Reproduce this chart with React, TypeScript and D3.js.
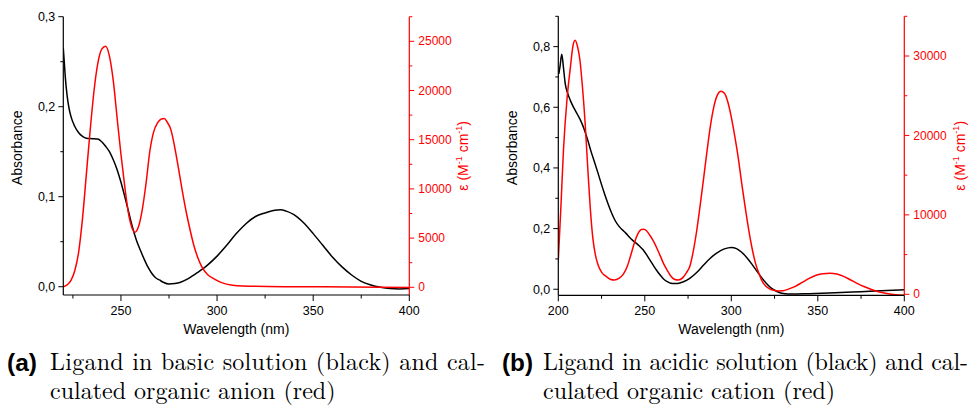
import React from "react";
import * as d3 from "d3";

// ---------- Panel (a) data ----------
const aBlackWl = [220, 220.5, 221, 222, 223, 224, 226, 228, 230, 232, 235, 238, 240, 242, 244, 246, 248, 250, 252, 254, 256, 258, 260, 262, 264, 266, 268, 270, 272, 275, 278, 281, 285, 290, 295, 300, 305, 310, 315, 320, 325, 330, 333, 336, 340, 345, 350, 355, 360, 365, 370, 375, 380, 385, 390, 395, 400];
const aAbsorbance = [0.265, 0.25, 0.234, 0.212, 0.198, 0.189, 0.178, 0.171, 0.167, 0.165, 0.1645, 0.164, 0.161, 0.156, 0.15, 0.141, 0.13, 0.116, 0.1, 0.083, 0.066, 0.052, 0.041, 0.031, 0.022, 0.015, 0.01, 0.0075, 0.005, 0.003, 0.0035, 0.005, 0.009, 0.016, 0.024, 0.034, 0.046, 0.059, 0.07, 0.078, 0.082, 0.085, 0.0855, 0.084, 0.08, 0.071, 0.059, 0.046, 0.033, 0.022, 0.013, 0.006, 0.002, -0.0005, -0.002, -0.0025, -0.002];
const aRedWl = [220, 222, 224, 226, 228, 230, 232, 234, 236, 238, 240, 242, 244, 246, 248, 250, 252, 254, 256, 257.3, 259, 261, 263, 265, 267, 269, 271, 272.5, 274, 276, 278, 280, 282, 284, 286, 288, 290, 292, 295, 298, 302, 308, 320, 340, 370, 400];
const aEpsilon = [60, 250, 700, 1700, 3600, 7000, 11500, 16000, 20000, 22800, 24200, 24500, 23500, 21000, 17200, 13500, 10200, 7400, 5900, 5600, 6100, 7800, 10500, 13800, 15800, 16700, 17100, 17150, 16800, 16000, 14200, 12000, 9700, 7600, 5800, 4200, 3000, 2100, 1300, 900, 500, 220, 100, 60, 30, -30];
const aXTicks = [250, 300, 350, 400];
const aXMinor = [225, 275, 325, 375];
const aYTicks = [0, 0.1, 0.2, 0.3];
const aYTickLabels = ["0,0", "0,1", "0,2", "0,3"];
const aYMinor = [0.05, 0.15, 0.25];
const aRTicks = [0, 5000, 10000, 15000, 20000, 25000];
const aRMinor = [2500, 7500, 12500, 17500, 22500, 27500];

// ---------- Panel (b) data ----------
const bBlackWl = [200.3, 201, 202, 203, 204, 205.5, 207, 209, 211, 213, 215, 217, 219, 221, 223, 225, 227, 229, 231, 233, 235, 237, 239, 241, 243, 245, 247, 249, 251, 253, 255, 257, 259, 261, 263, 265, 267, 269, 272, 276, 280, 284, 288, 292, 296, 300, 303, 306, 309, 312, 315, 318, 321, 324, 327, 330, 335, 345, 360, 375, 390, 400];
const bAbsorbance = [0.71, 0.735, 0.775, 0.73, 0.678, 0.645, 0.622, 0.598, 0.577, 0.555, 0.527, 0.492, 0.453, 0.418, 0.382, 0.345, 0.31, 0.278, 0.249, 0.225, 0.208, 0.196, 0.185, 0.172, 0.161, 0.152, 0.142, 0.13, 0.114, 0.096, 0.078, 0.061, 0.046, 0.033, 0.025, 0.02, 0.0185, 0.019, 0.024, 0.036, 0.055, 0.08, 0.103, 0.121, 0.133, 0.138, 0.134, 0.122, 0.104, 0.082, 0.058, 0.035, 0.015, 0.0, -0.009, -0.014, -0.016, -0.0145, -0.012, -0.008, -0.004, -0.002];
const bRedWl = [200, 201.5, 203, 205, 207, 208.5, 209.7, 211, 212.5, 214, 215.5, 217, 218.5, 220, 221.5, 223, 225, 228, 230, 232.5, 235, 237.5, 240, 242, 244, 246, 248, 249.5, 251, 253, 255, 257, 259, 261, 263, 265, 267, 269.5, 272, 274, 276, 278, 280, 282, 284, 286, 288, 290, 292, 294, 296, 298, 300, 302, 304, 306, 308, 310, 312, 314, 316, 318, 320, 323, 327, 330, 333, 337, 341, 345, 349, 353, 357, 361, 365, 369, 373, 377, 381, 385, 390, 395, 400];
const bEpsilon = [4300, 11000, 18200, 24500, 28600, 31300, 32000, 31300, 29500, 26000, 21600, 16000, 10800, 7000, 4900, 3700, 2800, 2200, 1900, 1800, 2000, 2500, 3600, 5000, 6500, 7600, 8150, 8200, 8000, 7400, 6700, 5800, 4800, 3800, 3000, 2300, 1900, 1800, 2100, 2700, 3500, 5400, 8000, 11200, 14600, 18100, 21300, 23700, 25100, 25550, 25300, 24200, 22300, 19900, 17200, 14000, 11000, 8200, 5800, 3900, 2600, 1600, 1000, 600, 430, 450, 650, 1000, 1500, 2000, 2400, 2600, 2650, 2550, 2250, 1800, 1350, 950, 600, 320, 100, -50, -120];
const bXTicks = [200, 250, 300, 350, 400];
const bXMinor = [225, 275, 325, 375];
const bYTicks = [0, 0.2, 0.4, 0.6, 0.8];
const bYTickLabels = ["0,0", "0,2", "0,4", "0,6", "0,8"];
const bYMinor = [0.1, 0.3, 0.5, 0.7, 0.9];
const bRTicks = [0, 10000, 20000, 30000];
const bRMinor = [5000, 15000, 25000, 35000];

const SANS = "Liberation Sans";
const SERIF = "Latin Modern Roman";
const RED = "#ff0000";

type PanelProps = {
  x0: number; x1: number; yTop: number; yBot: number;
  xDomain: [number, number]; yDomain: [number, number]; rDomain: [number, number];
  blackWl: number[]; blackV: number[]; redWl: number[]; redV: number[];
  xTicks: number[]; xMinor: number[];
  yTicks: number[]; yLabels: string[]; yMinor: number[];
  rTicks: number[]; rMinor: number[];
  yTitleX: number; rTitleX: number;
};

function Panel(p: PanelProps) {
  const x = d3.scaleLinear().domain(p.xDomain).range([p.x0, p.x1]);
  const y = d3.scaleLinear().domain(p.yDomain).range([p.yBot, p.yTop]);
  const r = d3.scaleLinear().domain(p.rDomain).range([p.yBot, p.yTop]);
  const lineB = d3.line<number>().x((_, i) => x(p.blackWl[i])).y((v) => y(v)).curve(d3.curveMonotoneX);
  const lineR = d3.line<number>().x((_, i) => x(p.redWl[i])).y((v) => r(v)).curve(d3.curveMonotoneX);
  const midY = (p.yTop + p.yBot) / 2;
  const cid = `clip${Math.round(p.x0)}`;
  return (
    <g>
      <defs>
        <clipPath id={cid}>
          <rect x={p.x0} y={p.yTop - 2} width={p.x1 - p.x0} height={p.yBot - p.yTop + 2} />
        </clipPath>
      </defs>
      <g clipPath={`url(#${cid})`}>
        <path d={lineB(p.blackV) || ""} fill="none" stroke="#000" strokeWidth={1.5} />
        <path d={lineR(p.redV) || ""} fill="none" stroke={RED} strokeWidth={1.5} />
      </g>
      {/* left axis */}
      <line x1={p.x0} x2={p.x0} y1={p.yTop} y2={p.yBot} stroke="#000" strokeWidth={1.2} />
      {p.yTicks.map((t, i) => (
        <g key={"yt" + i}>
          <line x1={p.x0 - 5} x2={p.x0} y1={y(t)} y2={y(t)} stroke="#000" strokeWidth={1} />
          <text x={p.x0 - 8} y={y(t)} dy="0.35em" textAnchor="end" fontSize={12.5} fontFamily={SANS} fill="#000">{p.yLabels[i]}</text>
        </g>
      ))}
      {p.yMinor.map((t, i) => (
        <line key={"ym" + i} x1={p.x0 - 3} x2={p.x0} y1={y(t)} y2={y(t)} stroke="#000" strokeWidth={1} />
      ))}
      <text transform={`translate(${p.yTitleX},${midY - 8}) rotate(-90)`} textAnchor="middle" dy="0.35em" fontSize={14} fontFamily={SANS} fill="#000">Absorbance</text>
      {/* right axis */}
      <line x1={p.x1} x2={p.x1} y1={p.yTop} y2={p.yBot} stroke={RED} strokeWidth={1.2} />
      {p.rTicks.map((t, i) => (
        <g key={"rt" + i}>
          <line x1={p.x1} x2={p.x1 + 5} y1={r(t)} y2={r(t)} stroke={RED} strokeWidth={1} />
          <text x={p.x1 + 9} y={r(t)} dy="0.35em" textAnchor="start" fontSize={12} fontFamily={SANS} fill={RED}>{String(t)}</text>
        </g>
      ))}
      {p.rMinor.map((t, i) => (
        <line key={"rm" + i} x1={p.x1} x2={p.x1 + 3} y1={r(t)} y2={r(t)} stroke={RED} strokeWidth={1} />
      ))}
      <text transform={`translate(${p.rTitleX},${midY}) rotate(-90)`} textAnchor="middle" dy="0.35em" fontSize={14} fontFamily={SANS} fill={RED}>
        ε (M<tspan fontSize={9} dy="-6">-1</tspan><tspan dy="6"> cm</tspan><tspan fontSize={9} dy="-6">-1</tspan><tspan dy="6">)</tspan>
      </text>
      {/* bottom axis */}
      <line x1={p.x0} x2={p.x1} y1={p.yBot} y2={p.yBot} stroke="#000" strokeWidth={1.2} />
      {p.xTicks.map((t, i) => (
        <g key={"xt" + i}>
          <line x1={x(t)} x2={x(t)} y1={p.yBot} y2={p.yBot + 6} stroke="#000" strokeWidth={1} />
          <text x={x(t)} y={p.yBot + 20} textAnchor="middle" fontSize={12.5} fontFamily={SANS} fill="#000">{String(t)}</text>
        </g>
      ))}
      {p.xMinor.map((t, i) => (
        <line key={"xm" + i} x1={x(t)} x2={x(t)} y1={p.yBot} y2={p.yBot + 3.5} stroke="#000" strokeWidth={1} />
      ))}
      <text x={(p.x0 + p.x1) / 2} y={334} textAnchor="middle" fontSize={14} fontFamily={SANS} fill="#000">Wavelength (nm)</text>
    </g>
  );
}

export default function App() {
  return (
    <svg width={970} height={405} style={{ position: "absolute", left: 0, top: 0, background: "#fff" }}>
      <rect width={970} height={405} fill="#fff" />
      <Panel x0={63.3} x1={409.3} yTop={16.7} yBot={295}
        xDomain={[220, 400]} yDomain={[-0.0092, 0.3]} rDomain={[-783, 27500]}
        blackWl={aBlackWl} blackV={aAbsorbance} redWl={aRedWl} redV={aEpsilon}
        xTicks={aXTicks} xMinor={aXMinor} yTicks={aYTicks} yLabels={aYTickLabels} yMinor={aYMinor}
        rTicks={aRTicks} rMinor={aRMinor} yTitleX={17.5} rTitleX={463} />
      <Panel x0={558.3} x1={904.3} yTop={16.3} yBot={295.3}
        xDomain={[200, 400]} yDomain={[-0.02, 0.9]} rDomain={[-126, 35000]}
        blackWl={bBlackWl} blackV={bAbsorbance} redWl={bRedWl} redV={bEpsilon}
        xTicks={bXTicks} xMinor={bXMinor} yTicks={bYTicks} yLabels={bYTickLabels} yMinor={bYMinor}
        rTicks={bRTicks} rMinor={bRMinor} yTitleX={512} rTitleX={960} />
      {/* captions */}
      <text x={7} y={371} fontSize={23} fontWeight="bold" fontFamily={SANS} fill="#000" textLength={30} lengthAdjust="spacingAndGlyphs">(a)</text>
      <text x={50} y={370} fontSize={24} fontFamily={SERIF} fill="#000" textLength={435} lengthAdjust="spacing">Ligand in basic solution (black) and cal-</text>
      <text x={50} y={399} fontSize={24} fontFamily={SERIF} fill="#000">culated organic anion (red)</text>
      <text x={502} y={371} fontSize={23} fontWeight="bold" fontFamily={SANS} fill="#000" textLength={31} lengthAdjust="spacingAndGlyphs">(b)</text>
      <text x={543} y={370} fontSize={24} fontFamily={SERIF} fill="#000" textLength={425} lengthAdjust="spacing">Ligand in acidic solution (black) and cal-</text>
      <text x={543} y={399} fontSize={24} fontFamily={SERIF} fill="#000">culated organic cation (red)</text>
    </svg>
  );
}
